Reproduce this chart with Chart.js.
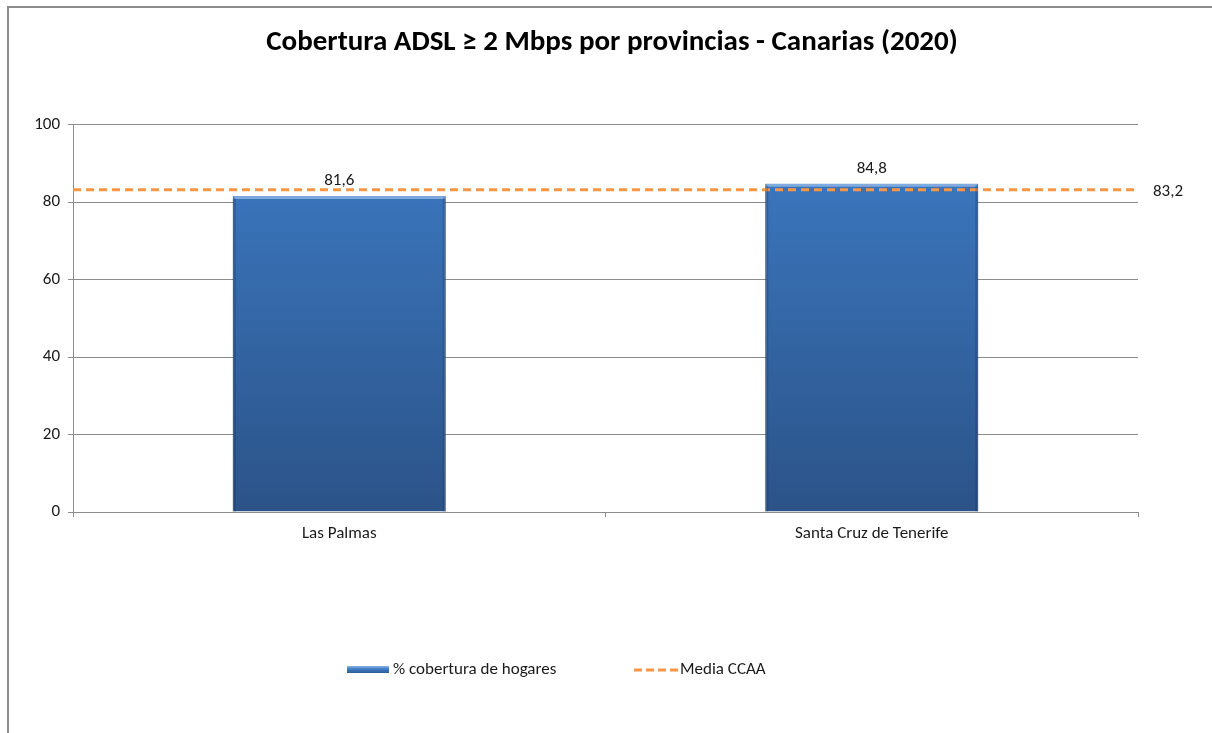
<!DOCTYPE html>
<html>
<head>
<meta charset="utf-8">
<script src="https://cdn.jsdelivr.net/npm/chart.js@4.4.1/dist/chart.umd.min.js"></script>
<style>
html, body { margin: 0; padding: 0; background: #fff; overflow: hidden; }
#frame { position: absolute; left: 7px; top: 6px; width: 1400px; height: 900px; border: 2px solid #8c8c8c; }
#wrap { position: absolute; left: 0; top: 0; width: 1212px; height: 733px; }
</style>
</head>
<body>
<div id="frame"></div>
<div id="wrap"><canvas id="myChart"></canvas></div>
<script>
var provincias = ["Las Palmas", "Santa Cruz de Tenerife"];
var cobertura = [81.6, 84.8];
var mediaCCAA = 83.2;
var yTicks = [0, 20, 40, 60, 80, 100];

var FONT = "Calibri, Carlito, 'Open Sans', sans-serif";

function fmt(v) {
    return v.toFixed(1).replace('.', ',');
}

// vertical gradient for the bars, like the excel fill
function barFill(context) {
    var chart = context.chart;
    var area = chart.chartArea;
    if (!area) return '#3a72b8';
    var g = chart.ctx.createLinearGradient(0, area.top, 0, area.bottom);
    g.addColorStop(0, '#3d7bc5');
    g.addColorStop(1, '#2b5388');
    return g;
}

var labelsPlugin = {
    id: 'labels',
    afterDatasetsDraw: function(chart) {
        var ctx = chart.ctx;
        var barMeta = chart.getDatasetMeta(1);
        ctx.save();
        // bevel on the top of each bar
        barMeta.data.forEach(function(bar) {
            var l = bar.x - bar.width / 2, r = bar.x + bar.width / 2;
            ctx.fillStyle = 'rgba(140,180,230,0.85)';
            ctx.beginPath();
            ctx.moveTo(l, bar.y);
            ctx.lineTo(r, bar.y);
            ctx.lineTo(r - 3, bar.y + 3);
            ctx.lineTo(l + 3, bar.y + 3);
            ctx.closePath();
            ctx.fill();
            ctx.fillStyle = 'rgba(20,40,80,0.25)';
            ctx.fillRect(r - 3, bar.y + 3, 3, bar.base - bar.y - 3);
            ctx.fillRect(l, bar.y + 3, 3, bar.base - bar.y - 3);
        });
        ctx.font = '17px ' + FONT;
        ctx.fillStyle = '#1a1a1a';
        ctx.textAlign = 'center';
        ctx.textBaseline = 'alphabetic';
        barMeta.data.forEach(function(bar, i) {
            ctx.fillText(fmt(cobertura[i]), bar.x, bar.y - 11);
        });
        var lineMeta = chart.getDatasetMeta(0);
        var last = lineMeta.data[lineMeta.data.length - 1];
        ctx.textAlign = 'left';
        ctx.textBaseline = 'middle';
        ctx.fillText(fmt(mediaCCAA), chart.chartArea.right + 15, last.y + 2);
        ctx.restore();
    },
    afterDraw: function(chart) {
        var ctx = chart.ctx;
        var y = 670;
        ctx.save();
        // bar item
        var g = ctx.createLinearGradient(0, y - 4, 0, y + 4);
        g.addColorStop(0, '#8cb4e6');
        g.addColorStop(0.4, '#3d7bc5');
        g.addColorStop(1, '#2b5388');
        ctx.fillStyle = g;
        ctx.fillRect(347, y - 4, 42, 7);
        ctx.font = '17px ' + FONT;
        ctx.fillStyle = '#1a1a1a';
        ctx.textBaseline = 'middle';
        ctx.fillText(chart.data.datasets[1].label, 393, y);
        // line item
        ctx.strokeStyle = '#f79646';
        ctx.lineWidth = 3;
        ctx.setLineDash([8, 4]);
        ctx.beginPath();
        ctx.moveTo(634, y);
        ctx.lineTo(679, y);
        ctx.stroke();
        ctx.setLineDash([]);
        ctx.fillText(chart.data.datasets[0].label, 680, y);
        ctx.restore();
    }
};

var ctx = document.getElementById("myChart").getContext('2d');
var myChart = new Chart(ctx, {
    type: 'bar',
    data: {
        labels: provincias,
        datasets: [{
            type: 'line',
            label: 'Media CCAA',
            data: [{x: 0, y: mediaCCAA}, {x: 1, y: mediaCCAA}],
            xAxisID: 'x2',
            borderColor: '#f79646',
            borderWidth: 3,
            borderDash: [8, 5],
            pointRadius: 0,
            fill: false,
            order: 0
        }, {
            label: '% cobertura de hogares',
            data: cobertura,
            backgroundColor: barFill,
            borderColor: '#2a4d7e',
            borderWidth: 1,
            grouped: false,
            categoryPercentage: 1,
            barPercentage: 0.4,
            order: 1
        }]
    },
    options: {
        responsive: true,
        maintainAspectRatio: false,
        animation: false,
        layout: { padding: { left: 12, right: 0, top: 0, bottom: 0 } },
        plugins: {
            legend: { display: false },
            tooltip: { enabled: false },
            title: {
                display: true,
                text: 'Cobertura ADSL \u2265 2 Mbps por provincias - Canarias (2020)',
                color: '#000',
                font: { family: FONT, size: 29, weight: 'bold', lineHeight: 1.2 },
                padding: { top: 25, bottom: 65 }
            }
        },
        scales: {
            x: {
                offset: true,
                grid: {
                    offset: true,
                    drawOnChartArea: false,
                    drawTicks: true,
                    tickLength: 5,
                    color: '#8c8c8c'
                },
                border: { color: '#8c8c8c', width: 1 },
                ticks: {
                    color: '#1a1a1a',
                    padding: 7,
                    font: { family: FONT, size: 17 }
                },
                afterFit: function(scale) { scale.height = 221; }
            },
            x2: {
                type: 'linear',
                min: 0,
                max: 1,
                offset: false,
                display: false
            },
            y: {
                min: yTicks[0],
                max: yTicks[yTicks.length - 1],
                afterBuildTicks: function(scale) {
                    scale.ticks = yTicks.map(function(v) { return {value: v}; });
                },
                grid: {
                    color: '#8c8c8c',
                    drawTicks: true,
                    tickLength: 5
                },
                border: { color: '#8c8c8c', width: 1 },
                ticks: {
                    color: '#1a1a1a',
                    padding: 8,
                    font: { family: FONT, size: 17 }
                },
                afterFit: function(scale) { scale.width = 61; }
            },
            // empty right-hand axis that only reserves room for the 83,2 label
            yRight: {
                position: 'right',
                min: 0,
                max: 100,
                grid: { display: false },
                border: { display: false },
                ticks: { display: false },
                afterFit: function(scale) { scale.width = 74; }
            }
        }
    },
    plugins: [labelsPlugin]
});
</script>
</body>
</html>
